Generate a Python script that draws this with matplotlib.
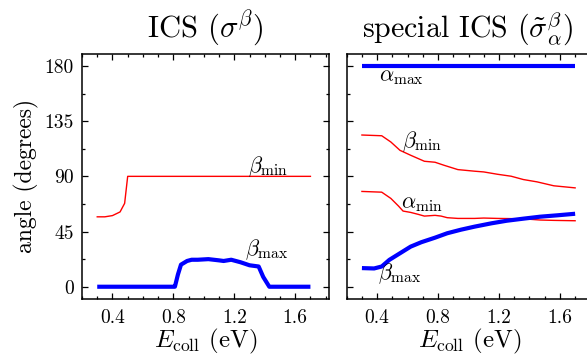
import matplotlib
matplotlib.use("Agg")
import matplotlib.pyplot as plt
from matplotlib.ticker import MultipleLocator

plt.rcParams['font.family'] = 'serif'
plt.rcParams['font.serif'] = ['cmr10']
plt.rcParams['mathtext.fontset'] = 'cm'
plt.rcParams['axes.formatter.use_mathtext'] = True

# ---- data: left panel (ICS) ----
ics_bmin_x = [0.3, 0.35, 0.4, 0.45, 0.48, 0.5, 1.7]
ics_bmin_y = [57, 57, 58, 61, 68, 90, 90]
ics_bmax_x = [0.3, 0.8, 0.81, 0.83, 0.85, 0.89, 0.92, 0.96, 1.03, 1.1, 1.13, 1.18,
              1.24, 1.3, 1.36, 1.39, 1.43, 1.7]
ics_bmax_y = [0, 0, 0, 10, 18, 21, 22, 22, 22.5, 21.5, 21, 22, 20, 17.5, 16.5, 8, 0, 0]

# ---- data: right panel (special ICS) ----
sp_amax_x = [0.3, 1.7]
sp_amax_y = [180, 180]
sp_bmin_x = [0.3, 0.43, 0.49, 0.55, 0.62, 0.71, 0.78, 0.84, 0.93, 1.04, 1.1, 1.19,
             1.28, 1.36, 1.45, 1.56, 1.7]
sp_bmin_y = [123.7, 123.1, 118, 111.2, 107.2, 102.3, 101.5, 99, 95.5, 94.2, 93.6,
             91.7, 90.1, 87.4, 85.5, 82.3, 80.6]
sp_amin_x = [0.3, 0.43, 0.49, 0.54, 0.57, 0.62, 0.67, 0.71, 0.78, 0.82, 0.86, 0.93,
             1.04, 1.1, 1.19, 1.3, 1.38, 1.47, 1.56, 1.7]
sp_amin_y = [77.7, 77.1, 72, 65.8, 61.7, 60.6, 59, 57.6, 58.2, 57.6, 56.3, 55.7,
             55.7, 56, 55.7, 55.5, 55.2, 54.4, 54.1, 53.8]
sp_bmax_x = [0.3, 0.38, 0.43, 0.48, 0.55, 0.62, 0.69, 0.78, 0.86, 0.95, 1.04, 1.15,
             1.25, 1.36, 1.47, 1.58, 1.7]
sp_bmax_y = [15.2, 14.9, 16.5, 21.9, 27.3, 32.7, 36.3, 40, 43.6, 46.5, 49, 51.7,
             53.8, 55.5, 57.1, 58.2, 59.5]

xticks = [0.4, 0.8, 1.2, 1.6]
yticks = [0, 45, 90, 135, 180]

RED = '#ff0000'
BLUE = '#0000ff'
lw_thin = 1.0
lw_thick = 3.0

fig = plt.figure(figsize=(5.87, 3.56), dpi=100)
W, H = 587, 356
axL = fig.add_axes([82 / W, 57 / H, 246.7 / W, 245.3 / H])
axR = fig.add_axes([346.7 / W, 57 / H, 246.7 / W, 245.3 / H])

for ax in (axL, axR):
    ax.set_xlim(0.2, 1.82)
    ax.set_ylim(-10, 190)
    ax.set_xticks(xticks)
    ax.set_yticks(yticks)
    ax.xaxis.set_minor_locator(MultipleLocator(0.1))
    ax.yaxis.set_minor_locator(MultipleLocator(22.5))
    ax.tick_params(which='both', direction='in', top=True, right=True, width=0.9)
    ax.tick_params(which='major', length=4, labelsize=14)
    ax.tick_params(which='minor', length=2.2)
    ax.tick_params(axis='x', which='major', pad=7)
    ax.tick_params(axis='y', which='major', pad=6)
    for s in ax.spines.values():
        s.set_linewidth(1.1)
    ax.set_xticklabels([f"{v:.1f}" for v in xticks], fontsize=14)
    ax.set_xlabel(r'$E_{\mathrm{coll}}$ (eV)', fontsize=18, labelpad=0)

axL.set_yticklabels([str(v) for v in yticks], fontsize=14)
axR.set_yticklabels([])
axL.set_ylabel('angle (degrees)', fontsize=17, labelpad=4)

axL.plot(ics_bmin_x, ics_bmin_y, color=RED, lw=lw_thin)
axL.plot(ics_bmax_x, ics_bmax_y, color=BLUE, lw=lw_thick, solid_capstyle='butt')
axL.text(1.42, 98, r'$\beta_{\mathrm{min}}$', fontsize=16, ha='center', va='center')
axL.text(1.41, 30, r'$\beta_{\mathrm{max}}$', fontsize=16, ha='center', va='center')
axL.set_title(r'ICS ($\sigma^{\beta}$)', fontsize=22, pad=12)

axR.plot(sp_amax_x, sp_amax_y, color=BLUE, lw=lw_thick, solid_capstyle='butt')
axR.plot(sp_bmin_x, sp_bmin_y, color=RED, lw=lw_thin)
axR.plot(sp_amin_x, sp_amin_y, color=RED, lw=lw_thin)
axR.plot(sp_bmax_x, sp_bmax_y, color=BLUE, lw=lw_thick, solid_capstyle='butt')
axR.text(0.557, 170.5, r'$\alpha_{\mathrm{max}}$', fontsize=16, ha='center', va='center')
axR.text(0.692, 118.5, r'$\beta_{\mathrm{min}}$', fontsize=16, ha='center', va='center')
axR.text(0.694, 67.4, r'$\alpha_{\mathrm{min}}$', fontsize=16, ha='center', va='center')
axR.text(0.55, 10.5, r'$\beta_{\mathrm{max}}$', fontsize=16, ha='center', va='center')
axR.text((468 - 346.7) / 246.7, 1.0 + 16.5 / 245.3,
         r'special ICS ($\tilde{\sigma}^{\beta}_{\alpha}$)', fontsize=21.5,
         ha='center', va='baseline', transform=axR.transAxes)

fig.savefig('out.png', dpi=100)
